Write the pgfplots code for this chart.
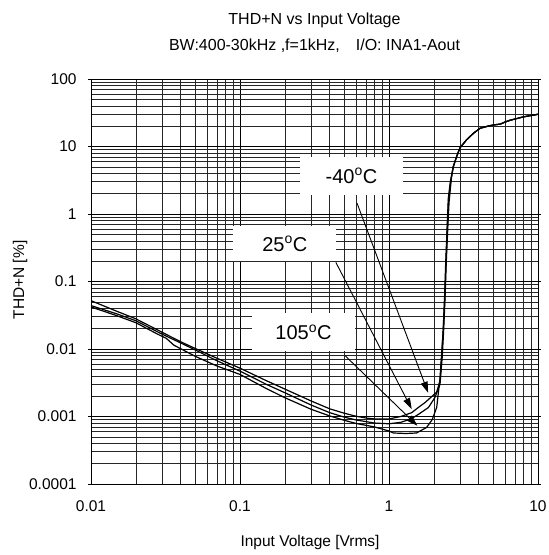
\documentclass[border=0pt]{standalone}
\usepackage{pgfplots}
\pgfplotsset{compat=1.18}
\usepackage{pgfplotstable}
\usepackage{fontspec}
\setmainfont{Liberation Sans}
\usetikzlibrary{arrows.meta}

% THD+N [%] against input voltage [Vrms], one table per temperature
\pgfplotstableread{
x y
0.01 0.052
0.015 0.036
0.02 0.028
0.03 0.0177
0.04 0.0128
0.05 0.0102
0.07 0.0073
0.1 0.0052
0.15 0.0034
0.2 0.00255
0.3 0.0017
0.4 0.0013
0.5 0.00112
0.6 0.00101
0.7 0.00095
0.8 0.00092
1.0 0.00092
1.2 0.00100
1.42 0.00114
1.6 0.0014
1.74 0.0016
1.9 0.0019
2.09 0.0023
2.2 0.0034
2.26 0.008
2.31 0.019
2.36 0.06
2.40 0.18
2.44 0.45
2.5 1.7
2.58 3.0
2.7 5.0
2.85 7.2
3.0 9.6
3.32 12.6
3.7 15.8
4.08 18.6
4.6 20.0
5.0 20.8
5.6 21.5
6.0 23.0
6.5 24.5
8.0 27.5
10 30
}\tminus

\pgfplotstableread{
x y
0.01 0.044
0.015 0.033
0.02 0.0262
0.03 0.0166
0.04 0.0123
0.05 0.0097
0.07 0.0067
0.1 0.0047
0.15 0.0030
0.2 0.00225
0.3 0.00148
0.4 0.00114
0.5 0.00098
0.6 0.00089
0.7 0.00084
0.8 0.00080
1.0 0.00078
1.2 0.00082
1.42 0.00093
1.6 0.00110
1.84 0.00136
2.03 0.0019
2.2 0.0030
2.28 0.008
2.33 0.02
2.38 0.06
2.42 0.18
2.47 0.5
2.53 1.5
2.62 3.3
2.7 5.0
2.85 7.2
3.0 9.6
3.32 12.6
3.7 15.8
4.08 18.6
4.6 20.0
5.0 20.8
5.6 21.5
6.0 23.0
6.5 24.5
8.0 27.5
10 30
}\troom

\pgfplotstableread{
x y
0.01 0.042
0.015 0.031
0.02 0.0245
0.028 0.0166
0.032 0.0144
0.036 0.0114
0.05 0.0078
0.07 0.0056
0.1 0.0042
0.15 0.0026
0.2 0.0019
0.3 0.00128
0.4 0.00102
0.5 0.00088
0.6 0.00079
0.8 0.00070
1.0 0.00061
1.07 0.00057
1.3 0.00056
1.53 0.00057
1.79 0.00069
1.95 0.0009
2.09 0.00136
2.2 0.0037
2.26 0.009
2.32 0.022
2.37 0.06
2.41 0.17
2.45 0.5
2.51 1.6
2.6 3.2
2.7 5.0
2.85 7.2
3.0 9.6
3.32 12.6
3.7 15.8
4.08 18.6
4.6 20.0
5.0 20.8
5.6 21.5
6.0 23.0
6.5 24.5
8.0 27.5
10 30
}\thot

\begin{document}
\begin{tikzpicture}
\useasboundingbox (-91bp,-71bp) rectangle (458bp,484bp);
\begin{axis}[
  at={(0,0)}, anchor=south west,
  width=447bp, height=405bp, scale only axis,
  xmode=log, ymode=log,
  xmin=0.01, xmax=10, ymin=1e-4, ymax=100,
  xtick={0.01,0.1,1,10}, xticklabels={0.01,0.1,1,10},
  ytick={1e-4,1e-3,1e-2,1e-1,1,10,100},
  yticklabels={0.0001,0.001,0.01,0.1,1,10,100},
  minor xtick={0.02,0.03,0.04,0.05,0.06,0.07,0.08,0.09,
               0.2,0.3,0.4,0.5,0.6,0.7,0.8,0.9,
               2,3,4,5,6,7,8,9},
  minor ytick={2e-4,3e-4,4e-4,5e-4,6e-4,7e-4,8e-4,9e-4,
               2e-3,3e-3,4e-3,5e-3,6e-3,7e-3,8e-3,9e-3,
               0.02,0.03,0.04,0.05,0.06,0.07,0.08,0.09,
               0.2,0.3,0.4,0.5,0.6,0.7,0.8,0.9,
               2,3,4,5,6,7,8,9,
               20,30,40,50,60,70,80,90},
  grid=both,
  major grid style={black, line width=0.8bp},
  minor grid style={black!85, line width=0.6bp},
  axis line style={black, line width=0.9bp},
  tick label style={font=\fontsize{15.5bp}{18bp}\selectfont, black},
  xticklabel style={yshift=-10bp},
  yticklabel style={xshift=-8bp},
  xtick style={draw=none},
  minor tick style={draw=none},
  ytick style={black, line width=0.8bp},
  major tick length=3bp, tick align=outside,
  clip mode=individual,
]
\addplot[black, line width=1.2bp] table {\tminus};
\addplot[black, line width=1.2bp] table {\troom};
\addplot[black, line width=1.2bp] table {\thot};

\tikzset{tlabel/.style={fill=white, inner sep=0pt, minimum width=103bp,
  minimum height=38bp, font=\fontsize{20bp}{24bp}\selectfont}}
\node[tlabel] at (axis cs:0.56,3.65) {-40\textsuperscript{o}C};
\node[tlabel, minimum height=35bp] at (axis cs:0.2,0.362) {25\textsuperscript{o}C};
\node[tlabel] at (axis cs:0.267,0.0178) {105\textsuperscript{o}C};

\tikzset{tarrow/.style={black, line width=0.9bp, -{Triangle[length=11bp,width=7bp]}}}
\draw[tarrow] (axis cs:0.61,1.45) -- (axis cs:1.83,0.00225);
\draw[tarrow] (axis cs:0.44,0.192) -- (axis cs:1.42,0.00129);
\draw[tarrow] (axis cs:0.507,0.00798) -- (axis cs:1.55,0.00073);
\end{axis}

\node[anchor=base, font=\fontsize{16bp}{19bp}\selectfont] at (223.5bp,459bp) {THD+N vs Input Voltage};
\node[anchor=base, font=\fontsize{16bp}{19bp}\selectfont] at (223.5bp,433bp) {BW:400-30kHz ,f=1kHz,\hspace{16bp}I/O: INA1-Aout};
\node[font=\fontsize{15.5bp}{18bp}\selectfont] at (219bp,-58bp) {Input Voltage [Vrms]};
\node[font=\fontsize{15.5bp}{18bp}\selectfont, rotate=90] at (-71bp,204bp) {THD+N [\%]};
\end{tikzpicture}
\end{document}
